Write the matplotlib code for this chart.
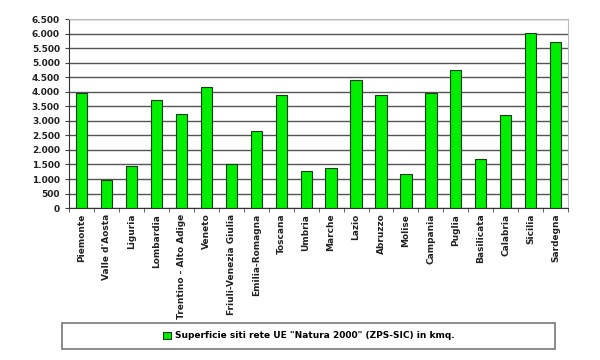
import matplotlib.pyplot as plt
import matplotlib.ticker as mticker
from matplotlib.patches import Rectangle
import numpy as np

regioni = ["Piemonte", "Valle d'Aosta", "Liguria", "Lombardia", "Trentino - Alto Adige",
           "Veneto", "Friuli-Venezia Giulia", "Emilia-Romagna", "Toscana", "Umbria",
           "Marche", "Lazio", "Abruzzo", "Molise", "Campania", "Puglia", "Basilicata",
           "Calabria", "Sicilia", "Sardegna"]
superficie = [3970, 970, 1455, 3710, 3245, 4175, 1500, 2660, 3900, 1275,
              1390, 4390, 3900, 1170, 3970, 4760, 1690, 3190, 6030, 5700]
y_ticks = list(range(0, 6501, 500))
label = 'Superficie siti rete UE "Natura 2000" (ZPS-SIC) in kmq.'

plt.rcParams['font.family'] = ['DejaVu Sans']

fig = plt.figure(figsize=(6, 3.6), dpi=100)
ax = fig.add_axes([0.115, 0.422, 0.832, 0.525])

x = np.arange(len(regioni))
ax.bar(x, superficie, width=0.45, color="#00ee00", edgecolor="#1a3a1a",
       linewidth=0.8, label=label, zorder=3)

ax.set_xlim(-0.5, len(regioni) - 0.5)
ax.set_ylim(0, 6500)
ax.set_yticks(y_ticks)
ax.yaxis.set_major_formatter(mticker.FuncFormatter(lambda v, p: f"{int(v):,}".replace(",", ".")))
ax.grid(axis="y", color="#555555", linewidth=1.0, zorder=0)

ax.set_xticks(x)
ax.set_xticklabels(regioni, rotation=90, fontsize=6.5, fontweight="bold", color="#222222")
ax.tick_params(axis="x", length=0, pad=4)
# tick marks between categories
ax.set_xticks(np.arange(-0.5, len(regioni)), minor=True)
ax.tick_params(axis="x", which="minor", length=3, color="#444444")
ax.tick_params(axis="y", labelsize=6.5, length=3, color="#444444", labelcolor="#222222")
for t in ax.get_yticklabels():
    t.set_fontweight("bold")

ax.spines["left"].set_color("#333333")
ax.spines["bottom"].set_color("#333333")
ax.spines["top"].set_color("#bbbbbb")
ax.spines["right"].set_color("#bbbbbb")

# legend frame box, entry centered inside it
box = Rectangle((62/600, 1 - 349/360), 493/600, 26/360, transform=fig.transFigure,
                facecolor="white", edgecolor="#777777", linewidth=1.2, zorder=5)
fig.patches.append(box)
leg = fig.legend(loc="center", bbox_to_anchor=((62 + 493/2)/600, 1 - 336/360),
                 frameon=False, handlelength=0.9, handleheight=0.9, handletextpad=0.4,
                 prop={"size": 6.5, "weight": "bold"})
leg.set_zorder(6)

fig.savefig("out.png", dpi=100)
